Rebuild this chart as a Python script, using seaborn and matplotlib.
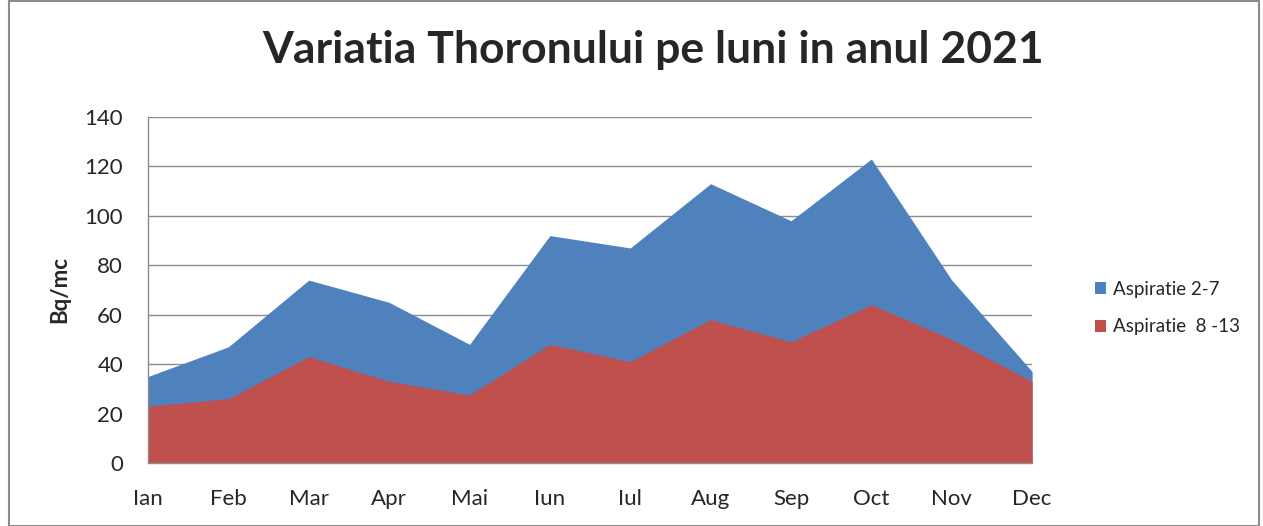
import matplotlib
matplotlib.use("Agg")
import matplotlib.pyplot as plt
import seaborn as sns
import pandas as pd
from matplotlib.patches import Rectangle

# Data
months = ["Ian", "Feb", "Mar", "Apr", "Mai", "Iun", "Iul", "Aug", "Sep", "Oct", "Nov", "Dec"]
aspiratie_2_7 = [35, 47, 74, 65, 48, 92, 87, 113, 98, 123, 74, 37]
aspiratie_8_13 = [23, 26, 43, 33, 27.5, 48, 41, 58, 49, 64, 50, 33]
y_ticks = [0, 20, 40, 60, 80, 100, 120, 140]

df = pd.DataFrame({"luna": months, "Aspiratie 2-7": aspiratie_2_7,
                   "Aspiratie  8 -13": aspiratie_8_13})
df["pos"] = range(len(months))

sns.set_style("white")
plt.rcParams["font.family"] = ["Lato", "DejaVu Sans"]

fig = plt.figure(figsize=(12.63, 5.26), dpi=100)
ax = fig.add_axes([0.1172, 0.1198, 0.7, 0.6578])

colors = {"Aspiratie 2-7": "#4F81BD", "Aspiratie  8 -13": "#C0504D"}
for name, col in colors.items():
    sns.lineplot(data=df, x="pos", y=name, ax=ax, color=col, linewidth=0, label=None)
    ax.fill_between(df["pos"], df[name], 0, color=col, linewidth=0, label=name, zorder=2)

ax.set_xlim(0, len(months) - 1)
ax.set_ylim(0, 140)
ax.set_yticks(y_ticks)
ax.set_xticks(df["pos"])
ax.set_xticklabels(months)
ax.yaxis.grid(True, color="#8c8c8c", linewidth=1)
ax.set_axisbelow(True)
for s in ["top", "right"]:
    ax.spines[s].set_visible(False)
for s in ["left", "bottom"]:
    ax.spines[s].set_color("#8c8c8c")
    ax.spines[s].set_linewidth(1)
ax.tick_params(axis="y", length=0, pad=18, labelsize=16)
ax.tick_params(axis="x", length=0, pad=19, labelsize=16)
ax.set_xlabel("")
ax.set_ylabel("Bq/mc", fontsize=16, fontweight="bold", labelpad=10)

fig.text(0.517, 0.905, "Variatia Thoronului pe luni in anul 2021", fontsize=32,
         fontweight="bold", ha="center", va="center")

handles, labels = ax.get_legend_handles_labels()
leg = ax.legend(handles, labels, loc="center left", bbox_to_anchor=(1.052, 0.448),
                frameon=False, fontsize=13.5, handlelength=0.6, handleheight=0.6,
                handletextpad=0.35, labelspacing=1.1)

fig.patches.append(Rectangle((0.007, 0.0), 0.99, 0.998, transform=fig.transFigure,
                             fill=False, edgecolor="#8c8c8c", linewidth=1.5))

fig.savefig("out.png", dpi=100)
